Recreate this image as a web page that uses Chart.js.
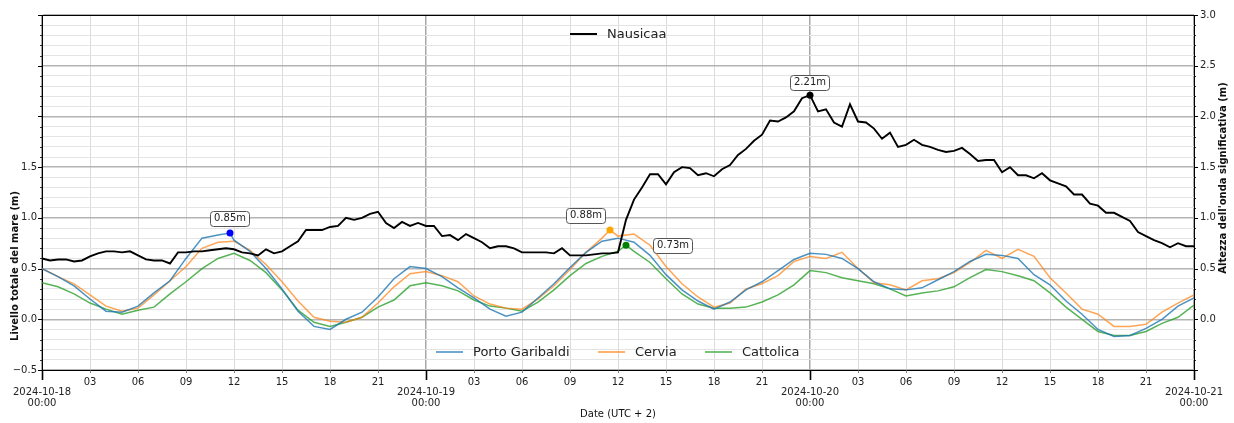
<!DOCTYPE html>
<html>
<head>
<meta charset="utf-8">
<script src="https://cdn.jsdelivr.net/npm/chart.js@4.4.1/dist/chart.umd.min.js"></script>
<style>
  html, body { margin: 0; padding: 0; background: #fff; }
  #wrap { width: 1234px; height: 423px; position: relative; }
</style>
</head>
<body>
<div id="wrap"><canvas id="chart"></canvas></div>
<script>
// sea level per station, one value per hour from 2024-10-18 00:00 (UTC+2)
const dayLabels = ['2024-10-18', '2024-10-19', '2024-10-20', '2024-10-21'];

const portoGaribaldi = [
  0.50, 0.42, 0.33, 0.20, 0.08, 0.07, 0.13, 0.26, 0.38, 0.60,
  0.80, 0.83, 0.78, 0.67, 0.50, 0.30, 0.08, -0.07, -0.10, 0.00,
  0.07, 0.22, 0.40, 0.52, 0.50, 0.42, 0.31, 0.21, 0.10, 0.03,
  0.07, 0.21, 0.35, 0.51, 0.66, 0.77, 0.80, 0.76, 0.63, 0.44,
  0.29, 0.18, 0.10, 0.17, 0.29, 0.37, 0.48, 0.59, 0.65, 0.64,
  0.60, 0.50, 0.37, 0.30, 0.29, 0.31, 0.39, 0.47, 0.57, 0.64,
  0.63, 0.60, 0.44, 0.34, 0.18, 0.05, -0.10, -0.17, -0.16, -0.09,
  0.00, 0.13, 0.21
];
const cervia = [
  0.50, 0.42, 0.35, 0.24, 0.13, 0.08, 0.11, 0.24, 0.38, 0.52,
  0.70, 0.76, 0.77, 0.68, 0.54, 0.37, 0.18, 0.02, -0.02, -0.03,
  0.02, 0.16, 0.32, 0.45, 0.47, 0.43, 0.37, 0.23, 0.15, 0.11,
  0.10, 0.20, 0.33, 0.49, 0.66, 0.80, 0.82, 0.84, 0.73, 0.52,
  0.35, 0.22, 0.12, 0.16, 0.30, 0.35, 0.43, 0.57, 0.62, 0.60,
  0.66, 0.50, 0.36, 0.34, 0.29, 0.38, 0.40, 0.46, 0.56, 0.68,
  0.60, 0.69, 0.62, 0.41, 0.26, 0.10, 0.05, -0.07, -0.07, -0.05,
  0.07, 0.16, 0.24
];
const cattolica = [
  0.36, 0.32, 0.25, 0.16, 0.10, 0.05, 0.09, 0.12, 0.25, 0.37,
  0.50, 0.60, 0.65, 0.58, 0.46, 0.29, 0.09, -0.03, -0.07, -0.03,
  0.02, 0.12, 0.19, 0.33, 0.36, 0.33, 0.28, 0.19, 0.13, 0.11,
  0.08, 0.17, 0.29, 0.43, 0.55, 0.62, 0.67, 0.67, 0.56, 0.40,
  0.25, 0.15, 0.11, 0.11, 0.12, 0.17, 0.24, 0.34, 0.48, 0.46,
  0.41, 0.38, 0.35, 0.30, 0.23, 0.26, 0.28, 0.32, 0.41, 0.49,
  0.47, 0.43, 0.38, 0.26, 0.12, 0.00, -0.12, -0.16, -0.16, -0.12,
  -0.04, 0.02, 0.14
];

// significant wave height at Nausicaa, every half hour
const waveStep = 0.5;
const nausicaa = [
  0.60, 0.58, 0.59, 0.59, 0.57, 0.58, 0.62, 0.65, 0.67, 0.67,
  0.66, 0.67, 0.63, 0.59, 0.58, 0.58, 0.55, 0.66, 0.66, 0.67,
  0.67, 0.68, 0.69, 0.70, 0.69, 0.66, 0.65, 0.63, 0.69, 0.65,
  0.67, 0.72, 0.77, 0.88, 0.88, 0.88, 0.91, 0.92, 1.00, 0.98,
  1.00, 1.04, 1.06, 0.95, 0.90, 0.96, 0.92, 0.95, 0.92, 0.92,
  0.82, 0.83, 0.78, 0.84, 0.80, 0.76, 0.70, 0.72, 0.72, 0.70,
  0.66, 0.66, 0.66, 0.66, 0.65, 0.70, 0.63, 0.63, 0.63, 0.64,
  0.65, 0.65, 0.66, 0.98, 1.18, 1.30, 1.43, 1.43, 1.33, 1.45,
  1.50, 1.49, 1.42, 1.44, 1.41, 1.48, 1.52, 1.62, 1.68, 1.76,
  1.82, 1.96, 1.95, 1.99, 2.05, 2.18, 2.21, 2.05, 2.07, 1.94,
  1.90, 2.12, 1.95, 1.94, 1.88, 1.78, 1.84, 1.70, 1.72, 1.77,
  1.72, 1.70, 1.67, 1.65, 1.66, 1.69, 1.63, 1.56, 1.57, 1.57,
  1.45, 1.50, 1.42, 1.42, 1.39, 1.44, 1.37, 1.34, 1.31, 1.23,
  1.23, 1.14, 1.12, 1.05, 1.05, 1.01, 0.97, 0.86, 0.82, 0.78,
  0.75, 0.71, 0.75, 0.72, 0.72
];

// maxima marked on the plot
const peakHours = [11.75, 35.5, 36.5, 48];
const peakValues = [0.85, 0.88, 0.73, 2.21];
const peakColors = ['#0000ff', '#ffa500', '#008000', '#000000'];
const peakLabelOffsets = [[0, -15], [-24, -15], [47, 0], [0, -13]];

const hourTicks = [];
for (let h = 0; h <= 72; h += 3) hourTicks.push(h);
const levelTicks = [];
for (let k = -5; k <= 30; k++) levelTicks.push(k / 10);

function toPoints(values, step, peakIdx) {
  const pts = values.map((v, i) => ({ x: i * step, y: v }));
  if (peakIdx !== undefined) {
    pts.push({ x: peakHours[peakIdx], y: peakValues[peakIdx] });
    pts.sort((a, b) => a.x - b.x);
  }
  return pts;
}

function fmtLevel(v) {
  const s = Math.abs(v).toFixed(1);
  return v < 0 ? '\u2212' + s : s;
}

const FONT = '"DejaVu Sans", "Liberation Sans", sans-serif';
Chart.defaults.font.family = FONT;

const decor = {
  id: 'decor',
  afterDraw(chart) {
    const { ctx, chartArea: a, scales } = chart;
    const x = scales.x, y = scales.y;
    ctx.save();

    // top spine
    ctx.strokeStyle = '#000';
    ctx.lineWidth = 1;
    ctx.beginPath();
    ctx.moveTo(a.left, a.top + 0.5);
    ctx.lineTo(a.right, a.top + 0.5);
    ctx.stroke();

    // tick marks on both level axes
    levelTicks.forEach(v => {
      const p = Math.round(y.getPixelForValue(v)) + 0.5;
      const major = Math.round(v * 10) % 5 === 0;
      const len = major ? 4 : 2;
      ctx.lineWidth = major ? 1 : 0.8;
      ctx.beginPath();
      ctx.moveTo(a.left - len, p); ctx.lineTo(a.left, p);
      ctx.moveTo(a.right, p); ctx.lineTo(a.right + len, p);
      ctx.stroke();
    });

    // time ticks: long for midnight, short for the 3-hourly ones
    hourTicks.forEach(h => {
      const p = Math.round(x.getPixelForValue(h)) + 0.5;
      const day = h % 24 === 0;
      ctx.lineWidth = day ? 1.6 : 0.8;
      ctx.strokeStyle = day ? '#000' : '#666';
      ctx.beginPath();
      ctx.moveTo(p, a.bottom);
      ctx.lineTo(p, a.bottom + (day ? 10 : 3));
      ctx.stroke();
    });

    // axis titles
    ctx.fillStyle = '#111';
    ctx.textAlign = 'center';
    ctx.textBaseline = 'middle';
    ctx.font = 'bold 10px ' + FONT;
    ctx.save();
    ctx.translate(15, 266);
    ctx.rotate(-Math.PI / 2);
    ctx.fillText('Livello totale del mare (m)', 0, 0);
    ctx.restore();
    ctx.save();
    ctx.translate(1223, 178);
    ctx.rotate(-Math.PI / 2);
    ctx.fillText("Altezza dell'onda significativa (m)", 0, 0);
    ctx.restore();
    ctx.font = '10px ' + FONT;
    ctx.fillText('Date (UTC + 2)', (a.left + a.right) / 2, 414);

    // legends (no frame)
    const legendItem = (lx, ly, color, width, text) => {
      ctx.strokeStyle = color;
      ctx.lineWidth = width;
      ctx.beginPath();
      ctx.moveTo(lx, ly); ctx.lineTo(lx + 27, ly);
      ctx.stroke();
      ctx.fillStyle = '#222';
      ctx.textAlign = 'left';
      ctx.textBaseline = 'middle';
      ctx.font = '13px ' + FONT;
      ctx.fillText(text, lx + 37, ly + 1);
    };
    legendItem(570, 34, '#000', 2, 'Nausicaa');
    legendItem(436, 352, 'rgba(31,119,180,0.8)', 1.6, 'Porto Garibaldi');
    legendItem(598, 352, 'rgba(255,127,14,0.75)', 1.6, 'Cervia');
    legendItem(705, 352, 'rgba(44,160,44,0.8)', 1.6, 'Cattolica');

    // value boxes next to the peaks
    ctx.font = '10px ' + FONT;
    peakHours.forEach((h, i) => {
      const px = x.getPixelForValue(h) + peakLabelOffsets[i][0];
      const py = y.getPixelForValue(peakValues[i]) + peakLabelOffsets[i][1];
      const text = peakValues[i].toFixed(2) + 'm';
      const w = ctx.measureText(text).width + 7;
      const hgt = 15;
      ctx.beginPath();
      ctx.roundRect(Math.round(px - w / 2) + 0.5, Math.round(py - hgt / 2) + 0.5, Math.round(w), hgt, 3);
      ctx.fillStyle = '#fff';
      ctx.fill();
      ctx.strokeStyle = '#555';
      ctx.lineWidth = 1;
      ctx.stroke();
      ctx.fillStyle = '#222';
      ctx.textAlign = 'center';
      ctx.textBaseline = 'middle';
      ctx.fillText(text, px, py + 0.5);
    });

    ctx.restore();
  }
};

const lineStyle = { pointRadius: 0, tension: 0, fill: false };

new Chart(document.getElementById('chart'), {
  type: 'line',
  data: {
    datasets: [
      {
        type: 'scatter',
        label: 'peaks',
        data: peakHours.map((h, i) => ({ x: h, y: peakValues[i] })),
        pointRadius: 3.5,
        pointBorderWidth: 0,
        pointBackgroundColor: peakColors,
        showLine: false,
        order: 0
      },
      Object.assign({
        label: 'Nausicaa',
        data: toPoints(nausicaa, waveStep),
        borderColor: '#000',
        borderWidth: 1.9,
        yAxisID: 'y2',
        order: 1
      }, lineStyle),
      Object.assign({
        label: 'Porto Garibaldi',
        data: toPoints(portoGaribaldi, 1, 0),
        borderColor: 'rgba(31,119,180,0.8)',
        borderWidth: 1.5,
        order: 2
      }, lineStyle),
      Object.assign({
        label: 'Cervia',
        data: toPoints(cervia, 1, 1),
        borderColor: 'rgba(255,127,14,0.7)',
        borderWidth: 1.5,
        order: 3
      }, lineStyle),
      Object.assign({
        label: 'Cattolica',
        data: toPoints(cattolica, 1, 2),
        borderColor: 'rgba(44,160,44,0.8)',
        borderWidth: 1.5,
        order: 4
      }, lineStyle)
    ]
  },
  options: {
    responsive: true,
    maintainAspectRatio: false,
    animation: false,
    devicePixelRatio: 1,
    layout: { padding: { top: 15, left: 0, right: 0, bottom: 0 } },
    plugins: { legend: { display: false }, tooltip: { enabled: false } },
    scales: {
      x: {
        type: 'linear',
        position: 'bottom',
        min: 0,
        max: 72,
        afterBuildTicks: s => { s.ticks = hourTicks.map(v => ({ value: v })); },
        afterFit: s => { s.height = 53; },
        ticks: {
          autoSkip: false,
          maxRotation: 0,
          padding: 7,
          color: '#222',
          font: { size: 10, lineHeight: 1.05 },
          callback: v => {
            const h = Math.round(v);
            if (h % 24 === 0) return ['', dayLabels[h / 24], '00:00'];
            return String(h % 24).padStart(2, '0');
          }
        },
        grid: {
          drawTicks: false,
          color: c => (c.tick && c.tick.value % 24 === 0) ? '#a8a8a8' : '#dcdcdc',
          lineWidth: c => (c.tick && c.tick.value % 24 === 0) ? 1.5 : 1
        },
        border: { color: '#000', width: 1 }
      },
      y: {
        type: 'linear',
        position: 'left',
        min: -0.5,
        max: 3.0,
        afterBuildTicks: s => { s.ticks = levelTicks.map(v => ({ value: v })); },
        afterFit: s => { s.width = 42; },
        ticks: {
          autoSkip: false,
          padding: 5,
          color: '#222',
          font: { size: 10 },
          callback: v => {
            const k = Math.round(v * 10);
            return (k % 5 === 0 && k <= 15) ? fmtLevel(v) : '';
          }
        },
        grid: {
          drawTicks: false,
          color: c => (c.tick && Math.round(c.tick.value * 10) % 5 === 0) ? '#b4b4b4' : '#e4e4e4',
          lineWidth: c => (c.tick && Math.round(c.tick.value * 10) % 5 === 0) ? 1.5 : 1
        },
        border: { color: '#000', width: 1 }
      },
      y2: {
        type: 'linear',
        position: 'right',
        min: -0.5,
        max: 3.0,
        afterBuildTicks: s => { s.ticks = levelTicks.map(v => ({ value: v })); },
        afterFit: s => { s.width = 40; },
        ticks: {
          autoSkip: false,
          padding: 6,
          color: '#222',
          font: { size: 10 },
          callback: v => {
            const k = Math.round(v * 10);
            return (k % 5 === 0 && k >= 0) ? fmtLevel(v) : '';
          }
        },
        grid: { drawOnChartArea: false, drawTicks: false },
        border: { color: '#000', width: 1 }
      }
    }
  },
  plugins: [decor]
});
</script>
</body>
</html>
